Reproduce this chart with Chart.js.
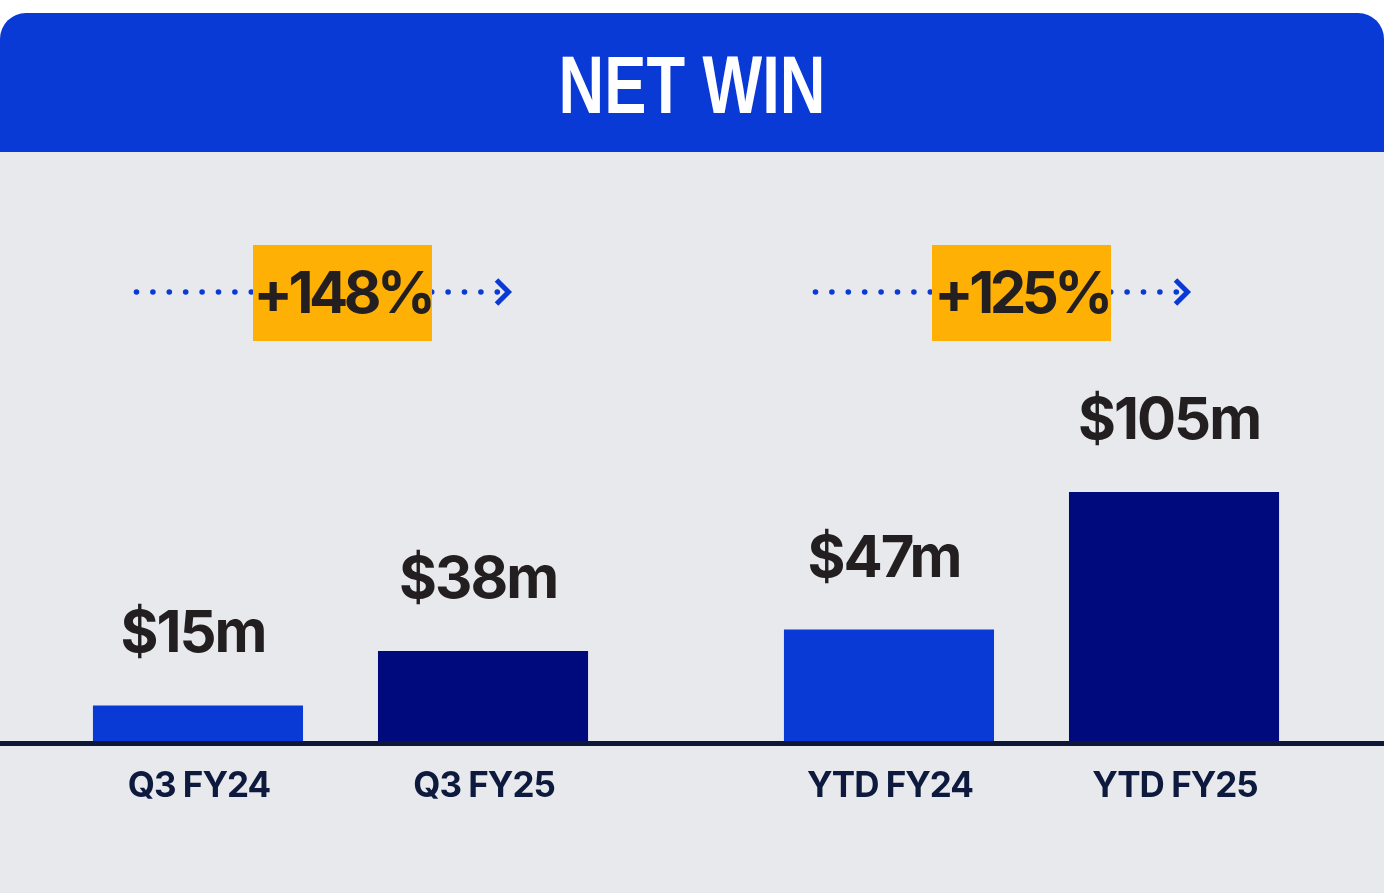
<!DOCTYPE html>
<html>
<head>
<meta charset="utf-8">
<script src="https://cdn.jsdelivr.net/npm/chart.js@4.4.1/dist/chart.umd.min.js"></script>
<style>
  html, body { margin: 0; padding: 0; background: #ffffff; overflow: hidden; }
  body { width: 1384px; height: 893px; position: relative; }
  .header {
    position: absolute; left: 0; top: 13px; width: 1384px; height: 139px;
    background: #0a3ad6; border-radius: 26px 26px 0 0;
    display: flex; align-items: center; justify-content: center;
  }
  .header h1 {
    margin: 0; color: #ffffff; font-family: "Liberation Sans", Arial, sans-serif;
    font-weight: 700; font-size: 81px; letter-spacing: 0;
    line-height: 1; transform: translateY(3px) scaleX(0.78);
  }
  .panel { position: absolute; left: 0; top: 152px; width: 1384px; height: 741px; background: #e8e9ed; overflow: hidden; }
  #netWin { position: absolute; left: -5px; top: 0; }
</style>
</head>
<body>
<div class="header"><h1>NET WIN</h1></div>
<div class="panel"><canvas id="netWin" width="1392" height="741"></canvas></div>
<script>
const periods = ["Q3", "YTD"];
const fy24Labels = ["Q3 FY24", "YTD FY24"];
const fy25Labels = ["Q3 FY25", "YTD FY25"];
const fy24Values = [15, 47];
const fy25Values = [38, 105];
const growthLabels = ["+148%", "+125%"];

const ctx = document.querySelector("#netWin").getContext("2d");

const labelsPlugin = {
  id: "netWinLabels",
  afterDatasetsDraw(chart) {
    const c = chart.ctx;
    const barLabels = [fy24Labels, fy25Labels];
    c.save();

    // baseline
    const baseY = chart.scales.y.getPixelForValue(0);
    c.fillStyle = "#0d1838";
    c.fillRect(0, baseY, chart.width, 5);

    chart.data.datasets.forEach((ds, i) => {
      chart.getDatasetMeta(i).data.forEach((bar, j) => {
        c.fillStyle = "#231f20";
        c.font = "700 58px Inter";
        c.letterSpacing = "-2px";
        c.textAlign = "center";
        c.textBaseline = "alphabetic";
        c.fillText("$" + ds.data[j] + "m", bar.x - 5, bar.y - 53);

        c.fillStyle = "#0d1a3d";
        c.font = "700 35px Inter";
        c.letterSpacing = "-1px";
        c.fillText(barLabels[i][j], bar.x + 1, baseY + 56);
      });
    });

    // growth arrows
    const offsets = [2, -10];
    const a = chart.getDatasetMeta(0).data;
    const b = chart.getDatasetMeta(1).data;
    growthLabels.forEach((txt, j) => {
      const cx = (a[j].x + b[j].x) / 2 + offsets[j];
      const cy = 140;
      c.fillStyle = "#0a3ad6";
      for (let x = cx - 206; x < cx + 160; x += 16.4) {
        c.beginPath();
        c.arc(x, cy, 2.8, 0, Math.PI * 2);
        c.fill();
      }
      c.strokeStyle = "#0a3ad6";
      c.lineWidth = 5;
      c.lineJoin = "miter";
      c.beginPath();
      c.moveTo(cx + 154, cy - 12);
      c.lineTo(cx + 166, cy);
      c.lineTo(cx + 154, cy + 12);
      c.stroke();

      c.fillStyle = "#ffb005";
      c.fillRect(cx - 89.5, cy - 47, 179, 96);
      c.fillStyle = "#231f20";
      c.font = "700 58px Inter";
      c.letterSpacing = "-4.5px";
      c.textAlign = "center";
      c.fillText(txt, cx, cy + 21);
    });
    c.restore();
  }
};

new Chart(ctx, {
  type: "bar",
  data: {
    labels: periods,
    datasets: [
      { label: "FY24", data: fy24Values, backgroundColor: "#0a3ad6" },
      { label: "FY25", data: fy25Values, backgroundColor: "#000a7d" },
    ],
  },
  options: {
    responsive: false,
    animation: false,
    categoryPercentage: 0.825,
    barPercentage: 0.737,
    layout: { padding: { top: 20, bottom: 152, left: 0, right: 10 } },
    plugins: {
      legend: { display: false },
      tooltip: { enabled: false },
    },
    scales: {
      x: { display: false, grid: { display: false } },
      y: { display: false, min: 0, max: 240, grid: { display: false } },
    },
  },
  plugins: [labelsPlugin],
});
</script>
</body>
</html>
